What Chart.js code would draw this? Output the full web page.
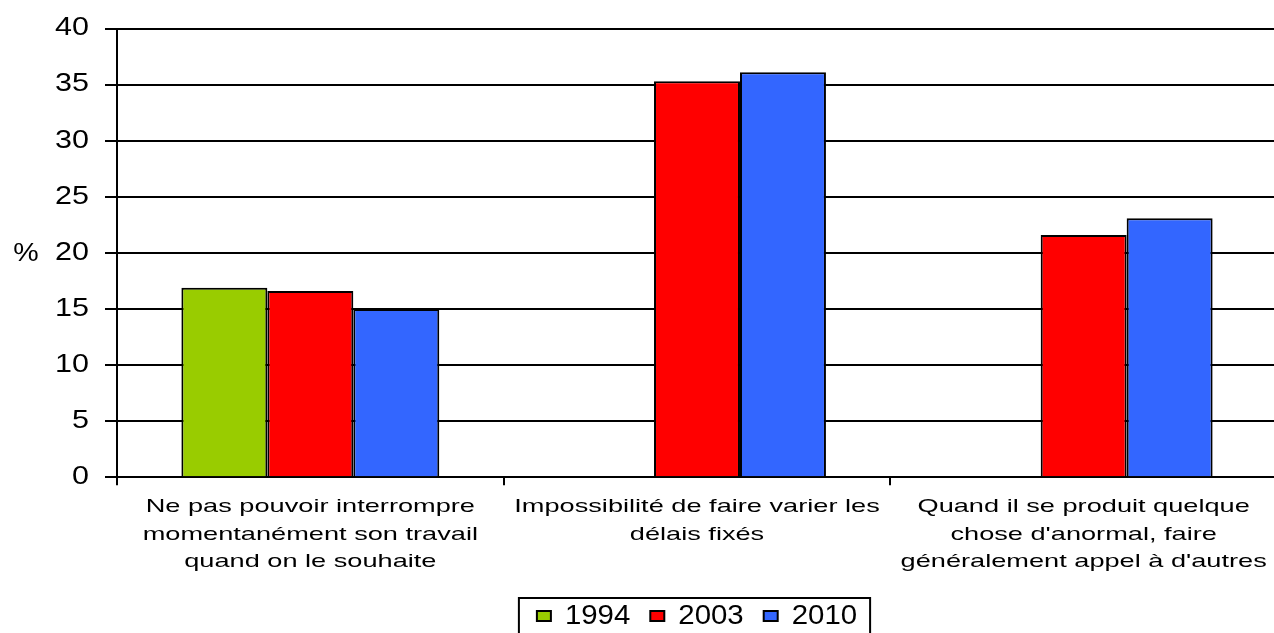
<!DOCTYPE html>
<html>
<head>
<meta charset="utf-8">
<script src="https://cdn.jsdelivr.net/npm/chart.js@4"></script>
<style>
html,body{margin:0;padding:0;background:#fff;overflow:hidden;}
#wrap{width:1274px;height:633px;overflow:hidden;position:relative;}
canvas{display:block;}
</style>
</head>
<body>
<div id="wrap"><canvas id="c" width="1280" height="640"></canvas></div>
<script>
const categories = [
  ['Ne pas pouvoir interrompre', 'momentanément son travail', 'quand on le souhaite'],
  ['Impossibilité de faire varier les', 'délais fixés'],
  ['Quand il se produit quelque', "chose d'anormal, faire", "généralement appel à d'autres"]
];
const seriesNames = ['1994', '2003', '2010'];
const values1994 = [16.9, null, null];
const values2003 = [16.6, 35.3, 21.6];
const values2010 = [15.0, 36.1, 23.1];
const yTicks = [0, 5, 10, 15, 20, 25, 30, 35, 40];
const yUnit = '%';

const FONT = "'Liberation Sans', Arial, sans-serif";
// horizontal stretch of the glyphs, by font size (the reference text is widened)
const STRETCH = { 19: 1.43, 25: 1.22, 26: 1.1, 28: 1.05 };

function stretchFor(ctx) {
  const m = /(\d+(?:\.\d+)?)px/.exec(ctx.font);
  if (!m) return 1;
  return STRETCH[Math.round(parseFloat(m[1]))] || 1;
}

const stretchPlugin = {
  id: 'stretch',
  beforeInit(chart) {
    const ctx = chart.ctx;
    const origFill = ctx.fillText.bind(ctx);
    const origMeasure = ctx.measureText.bind(ctx);
    ctx.fillText = function (text, x, y, maxWidth) {
      const sx = stretchFor(ctx);
      if (sx === 1) { return maxWidth === undefined ? origFill(text, x, y) : origFill(text, x, y, maxWidth); }
      ctx.save();
      ctx.translate(x, y);
      ctx.scale(sx, 1);
      if (maxWidth === undefined) origFill(text, 0, 0); else origFill(text, 0, 0, maxWidth / sx);
      ctx.restore();
    };
    ctx.measureText = function (text) {
      const sx = stretchFor(ctx);
      const m = origMeasure(text);
      return {
        width: m.width * sx,
        actualBoundingBoxLeft: m.actualBoundingBoxLeft * sx,
        actualBoundingBoxRight: m.actualBoundingBoxRight * sx,
        actualBoundingBoxAscent: m.actualBoundingBoxAscent,
        actualBoundingBoxDescent: m.actualBoundingBoxDescent,
        fontBoundingBoxAscent: m.fontBoundingBoxAscent,
        fontBoundingBoxDescent: m.fontBoundingBoxDescent
      };
    };
  },
  afterDraw(chart) {
    const ctx = chart.ctx;
    const ca = chart.chartArea;
    ctx.save();
    ctx.fillStyle = '#000';
    ctx.font = '26px ' + FONT;
    ctx.textAlign = 'center';
    ctx.textBaseline = 'middle';
    ctx.fillText(yUnit, 26, (ca.top + ca.bottom) / 2 + 1);
    // legend frame
    const hb = chart.legend.legendHitBoxes;
    if (hb && hb.length) {
      let l = Infinity, r = -Infinity, t = Infinity, b = -Infinity;
      hb.forEach(h => { l = Math.min(l, h.left); r = Math.max(r, h.left + h.width); t = Math.min(t, h.top); b = Math.max(b, h.top + h.height); });
      ctx.strokeStyle = '#000';
      ctx.lineWidth = 2;
      ctx.strokeRect(l - 18, t - 4, (r - l) + 31, (b - t) + 24);
    }
    ctx.restore();
  }
};

const common = { borderColor: '#000', borderWidth: 2, categoryPercentage: 0.667, barPercentage: 1.0 };

new Chart(document.getElementById('c'), {
  type: 'bar',
  data: {
    labels: categories,
    datasets: [
      Object.assign({ label: seriesNames[0], data: values1994, backgroundColor: '#99CC00' }, common),
      Object.assign({ label: seriesNames[1], data: values2003, backgroundColor: '#FF0000' }, common),
      Object.assign({ label: seriesNames[2], data: values2010, backgroundColor: '#3366FF' }, common)
    ]
  },
  options: {
    responsive: false,
    animation: false,
    events: [],
    layout: { padding: { left: 0, right: 3, top: 28, bottom: 0 } },
    plugins: {
      tooltip: { enabled: false },
      legend: {
        position: 'bottom',
        fullSize: false,
        labels: {
          color: '#000',
          font: { family: FONT, size: 28 },
          boxWidth: 14,
          boxHeight: 10,
          padding: 20
        }
      }
    },
    scales: {
      x: {
        offset: true,
        afterFit(scale) { scale.height -= 2; },
        grid: { display: true, drawOnChartArea: false, drawTicks: true, tickLength: 8, color: '#000', lineWidth: 2, offset: true },
        border: { display: true, color: '#000', width: 2 },
        ticks: {
          color: '#000',
          font: { family: FONT, size: 19, lineHeight: 1.45 },
          padding: 8,
          maxRotation: 0,
          autoSkip: false
        }
      },
      y: {
        min: 0,
        max: 40,
        afterFit(scale) { scale.width = 117; },
        afterBuildTicks(scale) { scale.ticks = yTicks.map(v => ({ value: v })); },
        grid: { color: '#000', lineWidth: 2, tickLength: 12 },
        border: { display: true, color: '#000', width: 2 },
        ticks: {
          color: '#000',
          font: { family: FONT, size: 25, lineHeight: 1.0 },
          padding: 16
        }
      }
    }
  },
  plugins: [stretchPlugin]
});
</script>
</body>
</html>
